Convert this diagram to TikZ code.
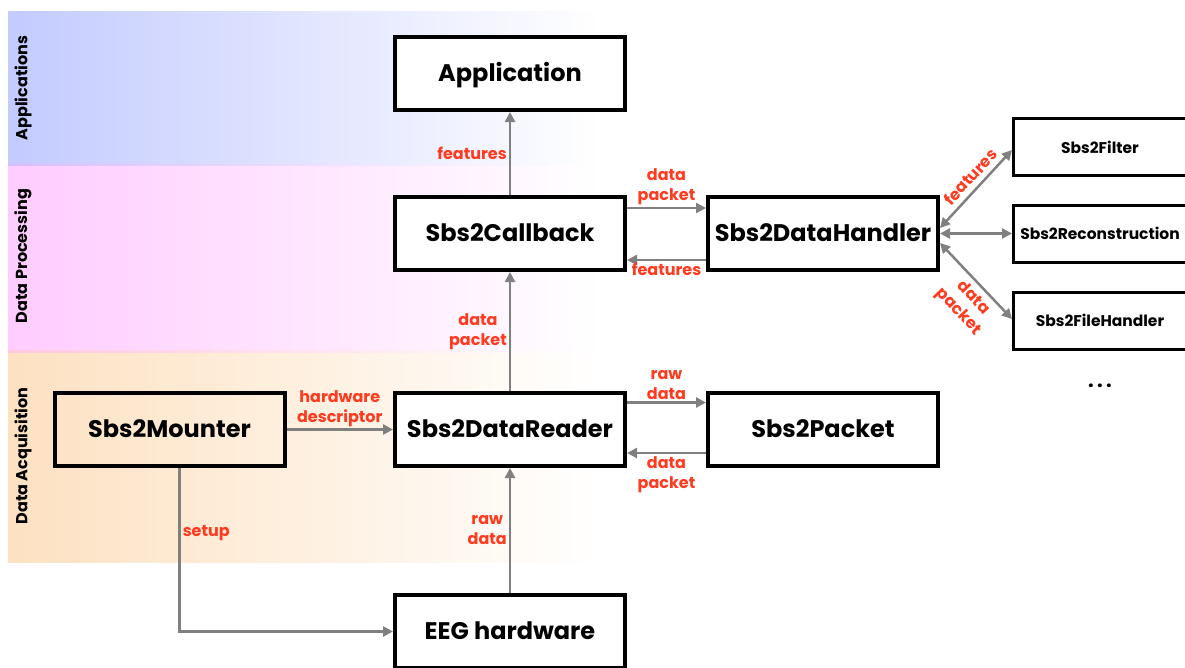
\documentclass[tikz,border=0pt]{standalone}
\usepackage{fontspec}
\setmainfont{Poppins}
\usetikzlibrary{arrows.meta, positioning, calc}
\definecolor{appblue}{HTML}{C3CBFF}
\definecolor{procpink}{HTML}{FFCCFF}
\definecolor{acqpeach}{HTML}{FDE1C1}
\definecolor{edgepurple}{HTML}{D2C0FF}
\definecolor{edgepink}{HTML}{FFC8E0}
\definecolor{arrgray}{HTML}{808080}
\definecolor{lblred}{HTML}{FF3A1F}
\tikzset{
  block/.style={
    rectangle, draw=black, line width=4pt, fill=white,
    font=\bfseries\fontsize{24}{28}\selectfont,
    text height=1.5em, text depth=0pt,
    minimum width=230pt, minimum height=73pt
  },
  subblock/.style={
    rectangle, draw=black, line width=3pt, fill=white,
    font=\bfseries\fontsize{15.5}{18}\selectfont,
    minimum width=173pt, minimum height=57pt, align=center
  },
  arr/.style={-{Triangle[length=10pt,width=10pt]}, line width=2.5pt, arrgray},
  biarr/.style={{Triangle[length=10pt,width=10pt]}-{Triangle[length=10pt,width=10pt]}, line width=2.5pt, arrgray},
  lbl/.style={font=\bfseries\fontsize{16}{20}\selectfont, text=lblred, align=center, inner sep=2pt},
  bandlbl/.style={font=\bfseries\fontsize{16}{19}\selectfont, rotate=90},
}
\begin{document}
\begin{tikzpicture}[x=1pt, y=1pt]
\useasboundingbox (0,0) rectangle (1185,-667);

% --- Bands ---
\shade[left color=appblue, right color=white] (8,-11) rectangle (600,-164);
\shade[left color=procpink, right color=white] (8,-164) rectangle (600,-351);
\shade[left color=acqpeach, right color=white] (8,-351) rectangle (600,-562);
\shade[left color=edgepurple, right color=white] (8,-163) rectangle (600,-165);
\shade[left color=edgepink, right color=white] (8,-350) rectangle (600,-352);
\node[bandlbl] (bapp) at (23,-88) {Applications};
\node[bandlbl] (bproc) at (23,-256) {Data Processing};
\node[bandlbl] (bacq) at (23,-456) {Data Acquisition};

% --- Blocks ---
\node[block] (app) at (510,-73.5) {Application};
\node[block] (cb) at (510,-233.5) {Sbs2Callback};
\node[block] (dh) at (823,-233.5) {Sbs2DataHandler};
\node[block, fill=none] (mnt) at (169.5,-429.5) {Sbs2Mounter};
\node[block] (dr) at (510,-429.5) {Sbs2DataReader};
\node[block] (pkt) at (823,-429.5) {Sbs2Packet};
\node[block] (eeg) at (510,-631.5) {EEG hardware};

% --- Handlers ---
\node[subblock] (flt) at (1100,-147) {Sbs2Filter};
\node[subblock] (rec) at (1100,-233.5) {Sbs2Reconstruction};
\node[subblock] (fh) at (1100,-320.5) {Sbs2FileHandler};
\node[font=\bfseries\fontsize{20}{24}\selectfont] (more) at (1100,-386) {.\,.\,.};

% --- Vertical arrows ---
\draw[arr] (cb) -- node[lbl, left] {features} (app);
\draw[arr] (dr) -- node[lbl, left] {data\\packet} (cb);
\draw[arr] (eeg) -- node[lbl, left] {raw\\data} (dr);

% --- Horizontal arrows ---
\draw[arr] (mnt) -- node[lbl, above] {hardware\\descriptor} (dr);
\draw[arr] ([yshift=25.5pt]cb.east) -- node[lbl, above] {data\\packet} ([yshift=25.5pt]dh.west);
\draw[arr] ([yshift=-26.5pt]dh.west) -- node[lbl, below] {features} ([yshift=-26.5pt]cb.east);
\draw[arr] ([yshift=27pt]dr.east) -- node[lbl, above] {raw\\data} ([yshift=27pt]pkt.west);
\draw[arr] ([yshift=-23.5pt]pkt.west) -- node[lbl, below] {data\\packet} ([yshift=-23.5pt]dr.east);

% --- Setup ---
\draw[arr] ([xshift=10pt]mnt.south) |- node[lbl, right, pos=0.2] {setup} (eeg.west);

% --- Handler arrows ---
\draw[biarr] ([yshift=5.5pt]dh.east) -- node[lbl, sloped, above=3pt, pos=0.55] {features} ([yshift=-3pt]flt.west);
\draw[biarr] (dh.east) -- (rec.west);
\draw[biarr] ([yshift=-9.5pt]dh.east) -- node[lbl, sloped, below=3pt, pos=0.6] {data\\packet} ([yshift=1.5pt]fh.west);

\end{tikzpicture}
\end{document}
